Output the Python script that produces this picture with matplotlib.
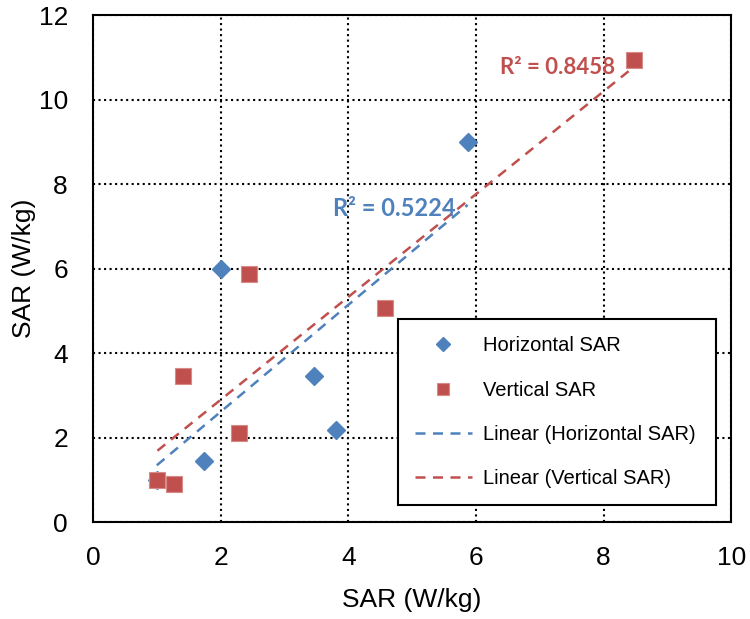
import numpy as np
import matplotlib
matplotlib.use("Agg")
from matplotlib import pyplot as plt

plt.rcParams['font.family'] = ['Liberation Sans', 'DejaVu Sans']

# data
horiz_x = [1.0, 1.74, 2.0, 3.46, 3.8, 5.87]
horiz_y = [1.0, 1.45, 6.0, 3.45, 2.18, 9.0]
vert_x = [1.01, 1.27, 1.41, 2.29, 2.44, 4.57, 8.48]
vert_y = [0.99, 0.91, 3.46, 2.11, 5.88, 5.06, 10.93]
horiz_r2 = "R² = 0.5224"
vert_r2 = "R² = 0.8458"

blue = '#4F81BD'
red = '#C0504D'

fig = plt.figure(figsize=(7.5, 6.19), dpi=100)
ax = fig.add_axes([0.124, 0.1567, 0.851, 0.819])

ax.plot(horiz_x, horiz_y, 'D', color=blue, ms=9, mec=blue, label='Horizontal SAR', zorder=3)
ax.plot(vert_x, vert_y, 's', color=red, ms=11.5, mec='#D88A88', mew=0.8, label='Vertical SAR', zorder=4)

# linear trend lines over each series' x range
hx = np.array([min(horiz_x), max(horiz_x)])
k, b = np.polyfit(horiz_x, horiz_y, 1)
ax.plot(hx, k * hx + b, '--', color=blue, lw=1.8, dashes=(4, 3),
        label='Linear (Horizontal SAR)', zorder=2)
vx = np.array([min(vert_x), max(vert_x)])
k2, b2 = np.polyfit(vert_x, vert_y, 1)
ax.plot(vx, k2 * vx + b2, '--', color=red, lw=1.8, dashes=(4, 3),
        label='Linear (Vertical SAR)', zorder=2)

ax.text(3.76, 7.43, horiz_r2, color=blue, fontsize=17, fontweight='bold',
        family=['Lato', 'DejaVu Sans'], va='center', ha='left')
ax.text(6.38, 10.75, vert_r2, color=red, fontsize=16, fontweight='bold',
        family=['Lato', 'DejaVu Sans'], va='center', ha='left')

ax.set_xlim(0, 10)
ax.set_ylim(0, 12)
ax.set_xticks(np.arange(0, 11, 2))
ax.set_yticks(np.arange(0, 13, 2))
ax.grid(True, color='black', linestyle=':', linewidth=1.5)
ax.tick_params(length=0, labelsize=19)
ax.tick_params(axis='x', pad=17)
ax.tick_params(axis='y', pad=18)
for s in ax.spines.values():
    s.set_linewidth(1.5)
ax.set_xlabel('SAR (W/kg)', fontsize=19, labelpad=13)
ax.set_ylabel('SAR (W/kg)', fontsize=19, labelpad=2)

leg = ax.legend(loc='lower left', bbox_to_anchor=(0.478, 0.0335, 0.498, 0.3665),
                mode='expand', fontsize=14.5, frameon=True, fancybox=False,
                edgecolor='black', framealpha=1, labelspacing=1.25,
                handlelength=2.8, borderpad=0.85, borderaxespad=0,
                handletextpad=0.55, markerscale=0.75)
leg.get_frame().set_linewidth(1.5)

fig.savefig('out.png', dpi=100)
